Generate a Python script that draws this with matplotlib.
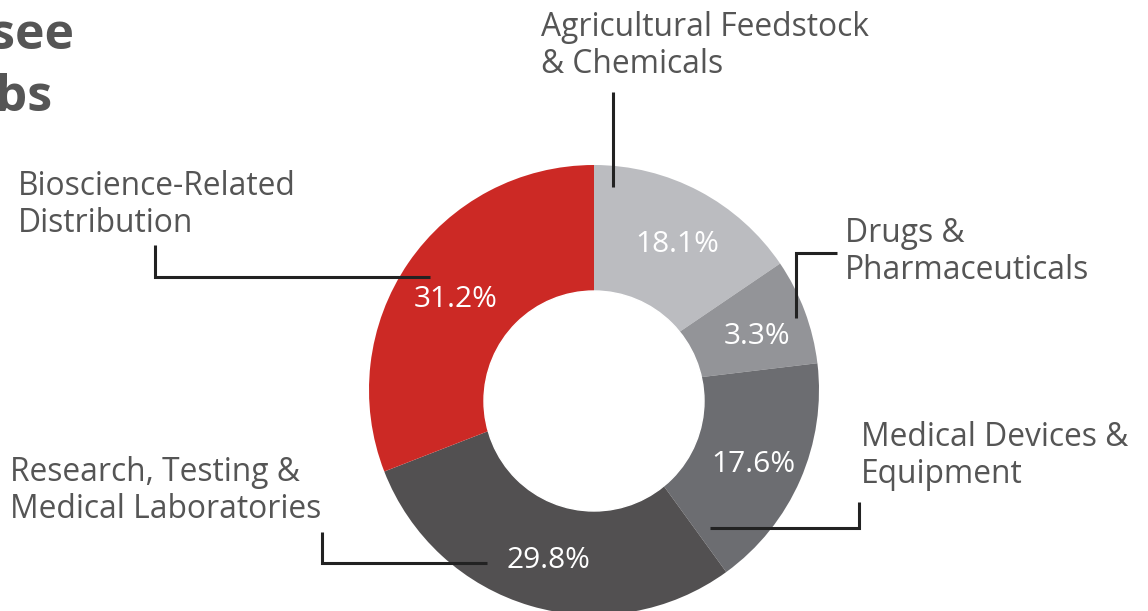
import matplotlib.pyplot as plt
from matplotlib.patches import Circle

# Sector names and the percentages printed on the ring
sectors = [
    "Agricultural Feedstock\n& Chemicals",
    "Drugs &\nPharmaceuticals",
    "Medical Devices &\nEquipment",
    "Research, Testing &\nMedical Laboratories",
    "Bioscience-Related\nDistribution",
]
pct_labels = ["18.1%", "3.3%", "17.6%", "29.8%", "31.2%"]
# Slice sizes as drawn in the picture (the small slice is enlarged there)
wedge_sizes = [15.5, 7.6, 16.9, 29.1, 30.9]
colors = ["#bbbcc0", "#939498", "#6c6d71", "#525051", "#cc2925"]

W, H = 1148, 611
TEXT = "#555555"
plt.rcParams["font.family"] = ["Open Sans", "DejaVu Sans"]

fig = plt.figure(figsize=(W / 100, H / 100), dpi=100)
ax = fig.add_axes([0, 0, 1, 1])

# donut: full pie, hole drawn on top (hole sits a little low in the original)
wedges, texts = ax.pie(
    wedge_sizes,
    colors=colors,
    startangle=90,
    counterclock=False,
    radius=225,
    center=(594, H - 390),
    labels=pct_labels,
    labeldistance=0.76,
    wedgeprops=dict(linewidth=0),
    textprops=dict(color="white", fontsize=21.5),
)
for t in texts:
    t.set_ha("center")
    x, y = t.get_position()
    t.set_position((x + 3, y - 6))
ax.add_patch(Circle((594, H - 401), 110, color="white", zorder=5))

ax.set_xlim(0, W)
ax.set_ylim(0, H)
ax.axis("off")

# sector labels (left x, middle y in pixels from top)
label_pos = [(541, 46), (845, 252), (861, 456), (10, 491), (18, 205)]
for name, (x, y) in zip(sectors, label_pos):
    ax.text(x, H - y, name, ha="left", va="center", fontsize=22.9,
            color=TEXT, linespacing=1.17)

# leader lines
leaders = [
    [(613, 92), (613, 187)],
    [(837, 253), (796, 253), (796, 318)],
    [(859, 502), (859, 528), (710, 528)],
    [(322, 532), (322, 563), (487, 563)],
    [(155, 245), (155, 277), (430, 277)],
]
for pts in leaders:
    xs = [p[0] for p in pts]
    ys = [H - p[1] for p in pts]
    ax.plot(xs, ys, color="#222222", lw=2.2, solid_capstyle="butt",
            solid_joinstyle="miter", zorder=6)

# title, cut off at the left edge
ax.text(74, H - 36, "Tennessee", ha="right", va="center", fontsize=36,
        fontweight="bold", color=TEXT)
ax.text(53, H - 98, "Jobs", ha="right", va="center", fontsize=36,
        fontweight="bold", color=TEXT)

fig.savefig("out.png", dpi=100)
